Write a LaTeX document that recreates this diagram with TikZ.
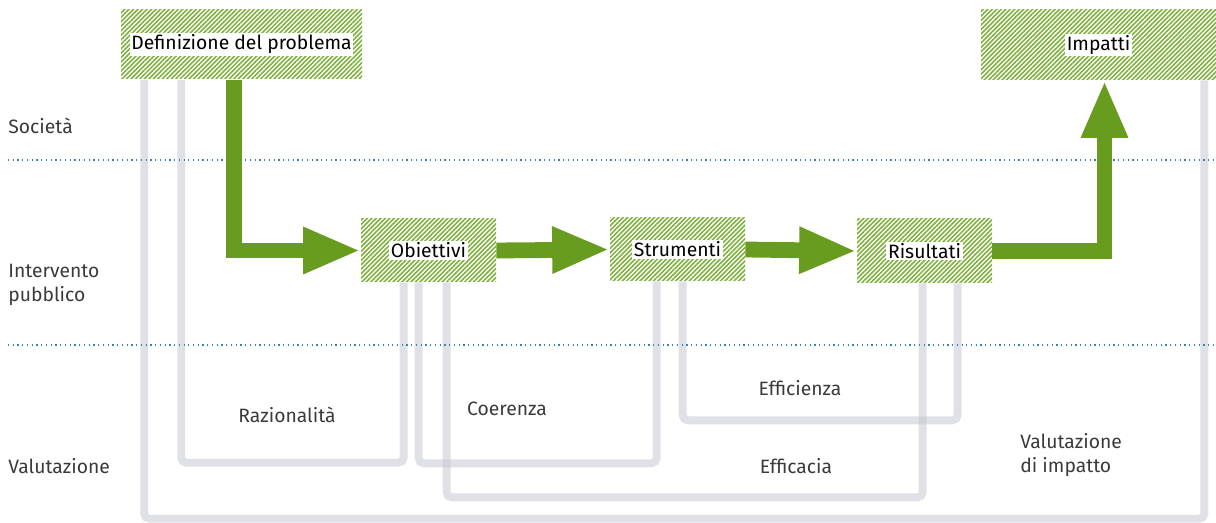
\documentclass[tikz,border=0pt]{standalone}
\usepackage{fontspec}
\setmainfont{Fira Sans}
\usepackage{xcolor}
\usepackage{tikz}
\usetikzlibrary{arrows.meta,calc,patterns.meta}

\definecolor{verde}{HTML}{689C1E}
\definecolor{tratteggio}{HTML}{7DB03C}
\definecolor{grigio}{HTML}{C6C8D1}
\definecolor{blu}{HTML}{3D80B8}
\definecolor{testo}{HTML}{3A3A3A}

\pgfdeclarelayer{sfondo}
\pgfsetlayers{sfondo,main}

\tikzset{
  fase/.style={rectangle, pattern={Lines[angle=45,distance=1.8pt,line width=0.9pt]},
    pattern color=tratteggio, inner sep=0pt, font=\fontsize{11}{13}\selectfont},
  flusso/.style={draw=verde, line width=9pt, -{Triangle[length=1.15cm,width=0.86cm]}},
  traccia/.style={draw=grigio, opacity=0.55, line width=4.5pt, rounded corners=3pt},
  livello/.style={blu, dotted, line width=0.7pt},
  etichetta/.style={text=testo, font=\fontsize{11}{14}\selectfont, inner sep=0pt}
}
\newcommand{\testofase}[1]{{\setlength{\fboxsep}{1pt}\colorbox{white}{#1}}}

\begin{document}
\begin{tikzpicture}[x=0.02cm, y=-0.02cm]
\useasboundingbox (0,0) rectangle (1216,523);

% Livelli
\draw[livello] (8,160) -- (1216,160);
\draw[livello] (8,345) -- (1216,345);
\node[etichetta, anchor=west] (soc) at (8,126) {Società};
\node[etichetta, anchor=west, align=left] (int) at (8,285) {Intervento\\pubblico};
\node[etichetta, anchor=west] (val) at (8,466) {Valutazione};

% Fasi (coordinate dei centri)
\node[fase, minimum width=241*0.02cm, minimum height=69*0.02cm] (prob) at (241.5,44.5) {\testofase{Definizione del problema}};
\node[fase, minimum width=235*0.02cm, minimum height=70*0.02cm] (imp) at (1098.5,45) {\testofase{Impatti}};
\node[fase, minimum width=135*0.02cm, minimum height=63*0.02cm] (obj) at (428.5,250.5) {\testofase{Obiettivi}};
\node[fase, minimum width=135*0.02cm, minimum height=63*0.02cm] (str) at (677.5,249.5) {\testofase{Strumenti}};
\node[fase, minimum width=135*0.02cm, minimum height=64*0.02cm] (ris) at (924.5,251) {\testofase{Risultati}};

% Percorsi di valutazione, sotto le fasi
\begin{pgfonlayer}{sfondo}
\draw[traccia] ($(prob.south west)+(24,0)$) -- ++(0,439) -| ($(imp.south east)+(-12,0)$);
\draw[traccia] ($(prob.south west)+(61,0)$) -- ++(0,383) -| ($(obj.south west)+(43,0)$);
\draw[traccia] ($(obj.south west)+(58,0)$) -- ++(0,181) -| ($(str.south west)+(47,0)$);
\draw[traccia] ($(obj.south west)+(86,0)$) -- ++(0,215) -| ($(ris.south west)+(66,0)$);
\draw[traccia] ($(str.south west)+(73,0)$) -- ++(0,139) -| ($(ris.south west)+(101,0)$);
\end{pgfonlayer}

\node[etichetta] (raz) at (287,415) {Razionalità};
\node[etichetta] (coe) at (507,409) {Coerenza};
\node[etichetta] (effz) at (800,388) {Efficienza};
\node[etichetta] (effc) at (796,466) {Efficacia};
\node[etichetta, anchor=west, align=left] (vimp) at (1020,455) {Valutazione\\di impatto};

% Flusso principale
\draw[flusso] ($(prob.south west)+(114,0)$) |- (obj.west);
\draw[flusso] (obj.east) -- (str.west);
\draw[flusso] (str.east) -- (ris.west);
\draw[flusso] (ris.east) -| ($(imp.south)+(6,0)$);
\end{tikzpicture}
\end{document}
